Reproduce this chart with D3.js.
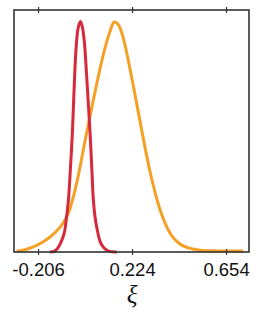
<!DOCTYPE html>
<html><head><meta charset="utf-8">
<script src="https://cdn.jsdelivr.net/npm/d3@7"></script>
<style>body{margin:0;background:#fff}svg{display:block}</style>
</head><body>
<script>
// data (density normalised to peak = 1)
const tickValues = [-0.206, 0.224, 0.654];
const tickLabels = ["-0.206", "0.224", "0.654"];
const orangeX = [-0.303,-0.265,-0.228,-0.190,-0.151,-0.120,-0.090,-0.065,-0.045,-0.028,-0.011,0.004,0.020,0.034,0.047,0.062,0.078,0.093,0.108,0.125,0.142,0.160,0.178,0.192,0.206,0.228,0.250,0.273,0.297,0.317,0.337,0.356,0.375,0.390,0.406,0.440,0.474,0.535,0.600,0.660,0.732];
const orangeY = [0.004,0.010,0.022,0.040,0.065,0.092,0.127,0.175,0.237,0.305,0.383,0.458,0.535,0.600,0.660,0.728,0.797,0.858,0.912,0.962,0.998,0.988,0.948,0.897,0.835,0.730,0.620,0.505,0.390,0.305,0.232,0.172,0.125,0.095,0.070,0.037,0.020,0.008,0.005,0.004,0.004];
const redX = [-0.151,-0.130,-0.115,-0.100,-0.086,-0.077,-0.067,-0.058,-0.049,-0.043,-0.037,-0.030,-0.022,-0.012,-0.003,0.006,0.014,0.023,0.032,0.040,0.047,0.055,0.064,0.078,0.095,0.114,0.135,0.154];
const redY = [0.000,0.004,0.018,0.045,0.083,0.140,0.226,0.360,0.517,0.660,0.800,0.910,0.975,1.000,0.975,0.910,0.800,0.660,0.517,0.360,0.226,0.150,0.100,0.045,0.018,0.005,0.001,0.000];

const W = 261, H = 320;
const m = {left:14, right:12, top:10, bottom:68};
const svg = d3.select("body").append("svg").attr("width", W).attr("height", H);

const x = d3.scaleLinear().domain([-0.316, 0.759]).range([m.left, W - m.right]);
const y = d3.scaleLinear().domain([0, 1.05]).range([H - m.bottom, m.top]);

const line = d3.line().x(d => x(d[0])).y(d => y(d[1])).curve(d3.curveCatmullRom.alpha(0.5));

svg.append("path").datum(d3.zip(orangeX, orangeY))
  .attr("d", line).attr("fill", "none").attr("stroke", "#f4a025").attr("stroke-width", 3)
  .attr("stroke-linejoin", "round");
svg.append("path").datum(d3.zip(redX, redY))
  .attr("d", line).attr("fill", "none").attr("stroke", "#d52a3c").attr("stroke-width", 3)
  .attr("stroke-linejoin", "round");

// frame
svg.append("rect").attr("x", m.left).attr("y", m.top)
  .attr("width", W - m.right - m.left).attr("height", H - m.bottom - m.top)
  .attr("fill", "none").attr("stroke", "#333").attr("stroke-width", 1.6);

// bottom axis
const ax = svg.append("g").attr("transform", `translate(0,${H - m.bottom})`)
  .call(d3.axisBottom(x).tickValues(tickValues).tickFormat((d,i) => tickLabels[i]).tickSize(3));
ax.select(".domain").remove();
ax.selectAll(".tick line").attr("stroke", "#333").attr("stroke-width", 1.2).attr("y1", -3).attr("y2", 3);
ax.selectAll("text").attr("y", 24).attr("dy", 0)
  .attr("font-family", "Liberation Sans, Arial, sans-serif").attr("font-size", 18.5).attr("fill", "#111");

// top axis ticks
const axt = svg.append("g").attr("transform", `translate(0,${m.top})`)
  .call(d3.axisTop(x).tickValues(tickValues).tickFormat("").tickSize(3));
axt.select(".domain").remove();
axt.selectAll(".tick line").attr("stroke", "#333").attr("stroke-width", 1.2).attr("y1", -3).attr("y2", 3);

// x label
svg.append("text").attr("x", x(0.224)).attr("y", 303).attr("text-anchor", "middle")
  .attr("font-family", "Liberation Serif, Times New Roman, serif").attr("font-style", "italic")
  .attr("font-size", 25).attr("fill", "#111").text("ξ");
</script>
</body></html>
